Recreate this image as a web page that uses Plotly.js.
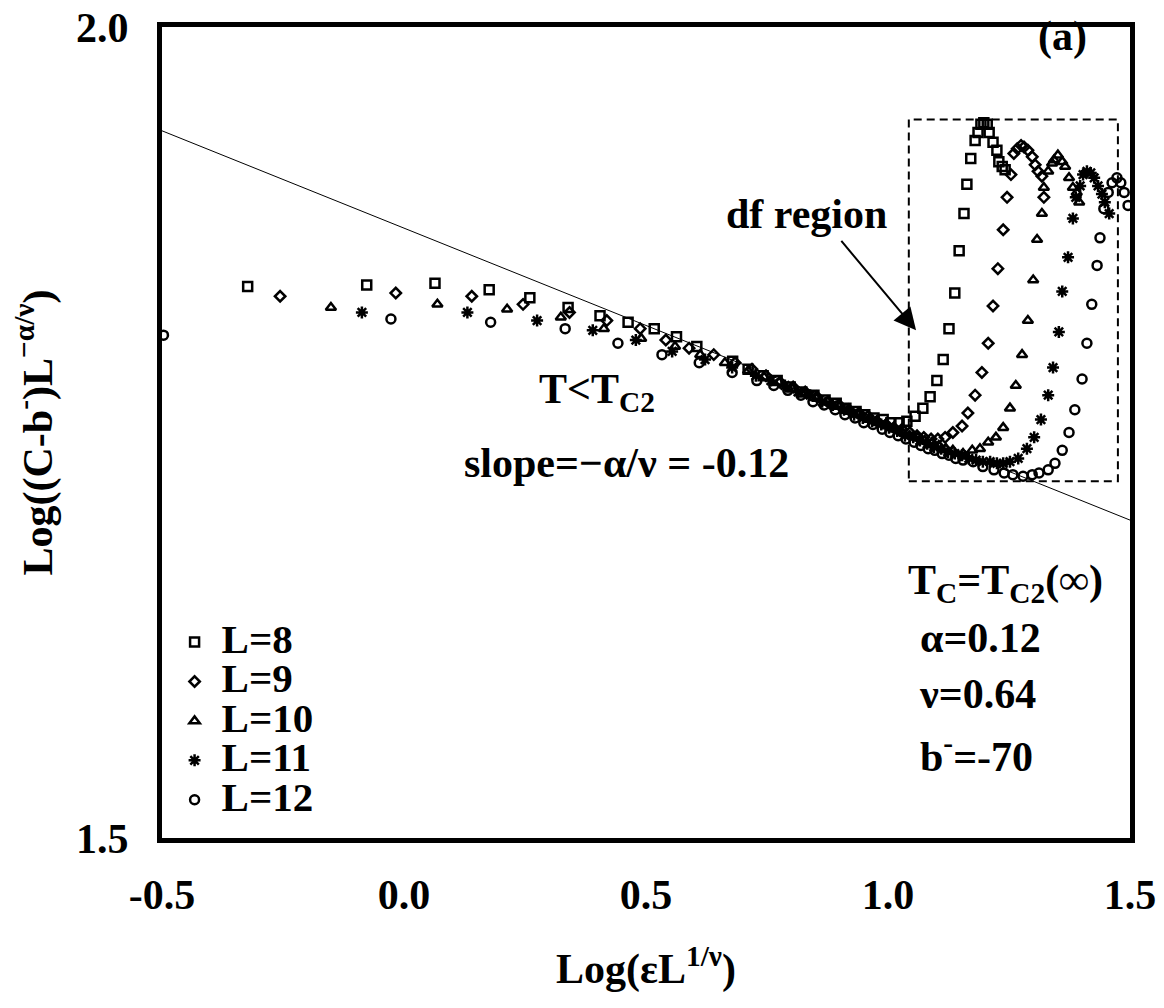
<!DOCTYPE html>
<html>
<head>
<meta charset="utf-8">
<script src="https://cdn.plot.ly/plotly-3.0.1.min.js"></script>
<style>html,body{margin:0;padding:0;background:#fff;}</style>
</head>
<body>
<div id="chart" style="width:1164px;height:1008px;"></div>
<script>
// ---- data ----
const L8_x = [-0.323,-0.077,0.064,0.176,0.260,0.339,0.405,0.463,0.517,0.563,0.605,0.679,0.711,0.742,0.771,0.798,0.822,0.847,0.870,0.893,0.913,0.934,0.952,0.971,0.990,1.006,1.023,1.039,1.056,1.072,1.087,1.101,1.114,1.126,1.138,1.147,1.157,1.163,1.171,1.180,1.186,1.192,1.198,1.205,1.209,1.217,1.225,1.229,1.236,1.242];
const L8_y = [1.840,1.841,1.842,1.838,1.833,1.827,1.822,1.818,1.814,1.809,1.803,1.794,1.789,1.785,1.782,1.778,1.775,1.773,1.770,1.768,1.765,1.763,1.761,1.759,1.758,1.756,1.756,1.757,1.760,1.765,1.772,1.782,1.795,1.814,1.836,1.862,1.885,1.903,1.919,1.930,1.935,1.940,1.941,1.940,1.935,1.929,1.924,1.917,1.914,1.912];

const L9_x = [-0.256,-0.017,0.140,0.246,0.342,0.419,0.488,0.541,0.589,0.640,0.684,0.719,0.748,0.777,0.804,0.829,0.853,0.876,0.899,0.919,0.940,0.959,0.977,0.996,1.012,1.029,1.045,1.060,1.074,1.089,1.103,1.118,1.134,1.153,1.165,1.180,1.194,1.207,1.217,1.227,1.238,1.246,1.254,1.260,1.267,1.275,1.281,1.289,1.298,1.304,1.310,1.318,1.322];
const L9_y = [1.834,1.836,1.834,1.829,1.824,1.819,1.814,1.807,1.802,1.798,1.793,1.789,1.785,1.781,1.778,1.775,1.772,1.769,1.767,1.764,1.762,1.760,1.757,1.755,1.753,1.752,1.750,1.748,1.747,1.746,1.746,1.747,1.750,1.754,1.762,1.773,1.787,1.805,1.828,1.851,1.875,1.895,1.909,1.922,1.925,1.927,1.926,1.924,1.920,1.915,1.911,1.908,1.895];

const L10_x = [-0.151,0.069,0.213,0.324,0.413,0.490,0.560,0.612,0.663,0.711,0.744,0.775,0.802,0.829,0.853,0.876,0.899,0.919,0.940,0.959,0.977,0.996,1.012,1.029,1.045,1.062,1.076,1.091,1.105,1.120,1.134,1.155,1.174,1.190,1.207,1.223,1.238,1.252,1.264,1.277,1.289,1.300,1.308,1.318,1.322,1.331,1.339,1.343,1.351,1.360,1.366,1.374,1.382,1.390,1.395];
const L10_y = [1.827,1.829,1.826,1.821,1.814,1.808,1.803,1.798,1.793,1.788,1.784,1.781,1.777,1.774,1.771,1.769,1.766,1.763,1.761,1.758,1.756,1.754,1.752,1.750,1.748,1.747,1.745,1.744,1.742,1.740,1.739,1.737,1.739,1.740,1.744,1.747,1.753,1.765,1.779,1.798,1.819,1.844,1.869,1.885,1.901,1.911,1.916,1.918,1.921,1.917,1.914,1.907,1.901,1.898,1.892];

const L11_x = [-0.087,0.131,0.275,0.390,0.479,0.554,0.622,0.678,0.727,0.758,0.787,0.814,0.839,0.864,0.886,0.909,0.930,0.948,0.967,0.986,1.002,1.019,1.035,1.052,1.066,1.081,1.095,1.110,1.124,1.138,1.153,1.167,1.182,1.196,1.211,1.225,1.238,1.252,1.269,1.287,1.302,1.316,1.331,1.341,1.353,1.360,1.372,1.382,1.388,1.397,1.403,1.411,1.419,1.426,1.434,1.442,1.448,1.457];
const L11_y = [1.824,1.824,1.819,1.813,1.807,1.800,1.795,1.790,1.785,1.782,1.779,1.775,1.773,1.769,1.767,1.764,1.761,1.759,1.757,1.755,1.753,1.751,1.748,1.747,1.745,1.743,1.741,1.740,1.738,1.737,1.736,1.734,1.733,1.732,1.732,1.731,1.731,1.732,1.734,1.740,1.747,1.758,1.773,1.790,1.812,1.837,1.858,1.882,1.895,1.902,1.909,1.911,1.910,1.907,1.902,1.897,1.892,1.885];

const L12_x = [-0.497,-0.027,0.179,0.333,0.442,0.533,0.610,0.678,0.729,0.764,0.793,0.820,0.845,0.868,0.891,0.911,0.932,0.950,0.969,0.988,1.004,1.021,1.037,1.054,1.068,1.083,1.097,1.112,1.126,1.140,1.155,1.176,1.196,1.219,1.240,1.258,1.279,1.298,1.312,1.331,1.345,1.360,1.374,1.386,1.401,1.411,1.421,1.432,1.438,1.446,1.455,1.463,1.473,1.481,1.488,1.496];
const L12_y = [1.810,1.820,1.818,1.814,1.805,1.798,1.793,1.787,1.782,1.779,1.776,1.773,1.769,1.767,1.764,1.761,1.759,1.756,1.755,1.752,1.750,1.748,1.746,1.744,1.742,1.740,1.739,1.737,1.736,1.734,1.733,1.732,1.729,1.727,1.725,1.724,1.723,1.724,1.725,1.727,1.731,1.739,1.750,1.764,1.783,1.805,1.829,1.853,1.870,1.888,1.898,1.904,1.907,1.904,1.898,1.890];

// fitted straight line (slope -0.12)
const fit_x = [-0.5, 1.5];
const fit_y = [1.936, 1.696];

// df region box
const box_x = [1.043, 1.475];
const box_y = [1.720, 1.943];

const series_names = ['L=8','L=9','L=10','L=11','L=12'];
const x_tickvals = [-0.5, 0, 0.5, 1.0, 1.5];
const x_ticktext = ['-0.5','0.0','0.5','1.0','1.5'];
const y_tickvals = [1.5, 2.0];
const y_ticktext = ['1.5','2.0'];

// ---- styling ----
const FONT = 'Liberation Serif, Times New Roman, serif';
const symbols = ['square-open','diamond-open','triangle-up-open','asterisk-open','circle-open'];
const sizes = [9, 8, 9, 10, 9];
const xsAll = [L8_x, L9_x, L10_x, L11_x, L12_x];
const ysAll = [L8_y, L9_y, L10_y, L11_y, L12_y];

const traces = [{
  x: fit_x, y: fit_y, mode: 'lines', type: 'scatter',
  line: {color: 'black', width: 1}, showlegend: false, hoverinfo: 'skip'
}];
for (let i = 0; i < 5; i++) {
  traces.push({
    x: xsAll[i], y: ysAll[i], type: 'scatter', mode: 'markers',
    name: '&nbsp;<span style="font-size:41px">' + series_names[i] + '</span>',
    marker: {symbol: symbols[i], size: sizes[i], color: 'black', line: {color: 'black', width: 2.5}},
    cliponaxis: false
  });
}

const tf = {family: FONT, size: 42, color: 'black', weight: 'bold'};
function ann(text, x, y, xanchor) {
  return {text: text, x: x, y: y, xref: 'x', yref: 'y', showarrow: false,
          xanchor: xanchor || 'center', yanchor: 'middle', font: tf};
}

const layout = {
  width: 1164, height: 1008,
  margin: {l: 162, r: 34, t: 27, b: 170},
  paper_bgcolor: 'white', plot_bgcolor: 'white',
  font: {family: FONT, color: 'black'},
  xaxis: {
    range: [-0.5, 1.5], tickvals: x_tickvals, ticktext: x_ticktext,
    showline: true, linewidth: 5, linecolor: 'black', mirror: true,
    showgrid: false, zeroline: false, ticks: '', ticklabelstandoff: 16,
    tickfont: tf,
    title: {text: 'Log(εL<sup>1/ν</sup>)', font: tf, standoff: 38}
  },
  yaxis: {
    range: [1.5, 2.0], tickvals: y_tickvals, ticktext: y_ticktext,
    showline: true, linewidth: 5, linecolor: 'black', mirror: true,
    showgrid: false, zeroline: false, ticks: '', ticklabelstandoff: 20,
    tickfont: tf,
    title: {text: 'Log((C-b<sup>-</sup>)L<sup>\u2212α/ν</sup>)', font: tf, standoff: 12}
  },
  showlegend: true,
  legend: {
    x: 0.013, y: 0.272, xanchor: 'left', yanchor: 'top',
    bgcolor: 'rgba(0,0,0,0)', borderwidth: 0,
    font: {family: FONT, size: 28, color: 'black', weight: 'bold'},
    tracegroupgap: 0
  },
  shapes: [{
    type: 'rect', xref: 'x', yref: 'y',
    x0: box_x[0], x1: box_x[1], y0: box_y[0], y1: box_y[1],
    line: {color: 'black', width: 2, dash: '8px,5px'}, fillcolor: 'rgba(0,0,0,0)'
  }],
  annotations: [
    ann('(a)', 1.360, 1.994),
    ann('df region', 0.831, 1.885),
    {x: 1.058, y: 1.813, ax: 0.901, ay: 1.869, xref: 'x', yref: 'y', axref: 'x', ayref: 'y',
     text: '', showarrow: true, arrowhead: 2, arrowsize: 2.2, arrowwidth: 2, arrowcolor: 'black', standoff: 0},
    ann('T&lt;T<sub>C2</sub>', 0.399, 1.775),
    ann('slope=\u2212α/ν = -0.12', 0.459, 1.731),
    ann('T<sub>C</sub>=T<sub>C2</sub>(∞)', 1.242, 1.657),
    ann('α=0.12', 1.062, 1.623, 'left'),
    ann('ν=0.64', 1.060, 1.589, 'left'),
    ann('b<sup>-</sup>=-70', 1.062, 1.552, 'left')
  ]
};

Plotly.newPlot('chart', traces, layout, {displayModeBar: false, staticPlot: true});
</script>
</body>
</html>
